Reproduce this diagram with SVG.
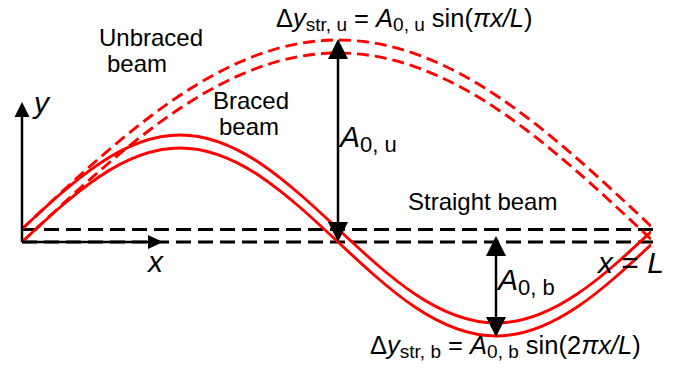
<svg xmlns="http://www.w3.org/2000/svg" width="678" height="374" viewBox="0 0 678 374">
<style>
text{font-family:"Liberation Sans",Arial,sans-serif;fill:#000}
.lbl{font-size:24px}
.it{font-style:italic}
.red{fill:none;stroke:#f00;stroke-width:2.9}
.redd{fill:none;stroke:#f00;stroke-width:2.9;stroke-dasharray:12 6}
.blkd{fill:none;stroke:#000;stroke-width:2.8;stroke-dasharray:15 7}
.ax{fill:none;stroke:#000;stroke-width:2.5}
.head{fill:#000}
</style>
<defs>
<clipPath id="clipR"><rect x="0" y="0" width="651" height="374"/></clipPath>
</defs>
<g id="straight-beam">
<line class="blkd" x1="22" y1="229.5" x2="654" y2="229.5"/>
<line class="blkd" x1="22" y1="242" x2="654" y2="242"/>
</g>
<g id="unbraced-beam" clip-path="url(#clipR)">
<path class="redd" d="M22,229 C125.06,132.18 223.64,40 338,40 S550.94,132.18 654,229"/>
<path class="redd" transform="translate(0,13)" d="M22,229 C125.06,132.18 223.64,40 338,40 S550.94,132.18 654,229"/>
</g>
<g id="braced-beam" clip-path="url(#clipR)">
<path class="red" d="M22,229 C73.53,180.84 122.82,135 180,135 S286.47,180.84 338,229 S438.82,323 496,323 S602.47,277.16 654,229"/>
<path class="red" transform="translate(0,13)" d="M22,229 C73.53,180.84 122.82,135 180,135 S286.47,180.84 338,229 S438.82,323 496,323 S602.47,277.16 654,229"/>
</g>
<g id="connectors">
<line class="ax" x1="22" y1="116" x2="22" y2="242"/>
<polygon class="head" points="22,102 14.5,117 29.5,117"/>
<line class="ax" x1="22" y1="242" x2="149" y2="242"/>
<polygon class="head" points="163,242 148,235 148,249"/>
<line class="ax" x1="338" y1="58" x2="338" y2="223"/>
<polygon class="head" points="338,39 328,59 348,59"/>
<polygon class="head" points="338,242 328,222 348,222"/>
<line class="ax" x1="496" y1="255" x2="496" y2="318"/>
<polygon class="head" points="496,236 486,256 506,256"/>
<polygon class="head" points="496,337 486,317 506,317"/>
</g>
<g id="labels">
<text class="lbl" x="99" y="46">Unbraced</text>
<text class="lbl" x="107" y="72">beam</text>
<text class="lbl" x="213" y="109">Braced</text>
<text class="lbl" x="219" y="135">beam</text>
<text class="lbl" x="408" y="210">Straight beam</text>
<text class="it" x="34" y="113" font-size="30">y</text>
<text class="it" x="148" y="272" font-size="30">x</text>
<text x="598" y="273" font-size="30"><tspan class="it">x</tspan> = <tspan class="it">L</tspan></text>
<text x="340" y="147" font-size="30"><tspan class="it">A</tspan><tspan font-size="22" dy="5">0, u</tspan></text>
<text x="498" y="290" font-size="30"><tspan class="it">A</tspan><tspan font-size="22" dy="5">0, b</tspan></text>
<text x="276" y="27" font-size="25.5">Δ<tspan class="it">y</tspan><tspan font-size="19" dy="4">str, u</tspan><tspan dy="-4"> = </tspan><tspan class="it">A</tspan><tspan font-size="19" dy="4">0, u</tspan><tspan dy="-4"> sin(</tspan><tspan class="it">πx/L</tspan>)</text>
<text x="370" y="354" font-size="25.5">Δ<tspan class="it">y</tspan><tspan font-size="19" dy="4">str, b</tspan><tspan dy="-4"> = </tspan><tspan class="it">A</tspan><tspan font-size="19" dy="4">0, b</tspan><tspan dy="-4"> sin(2</tspan><tspan class="it">πx/L</tspan>)</text>
</g>
</svg>
